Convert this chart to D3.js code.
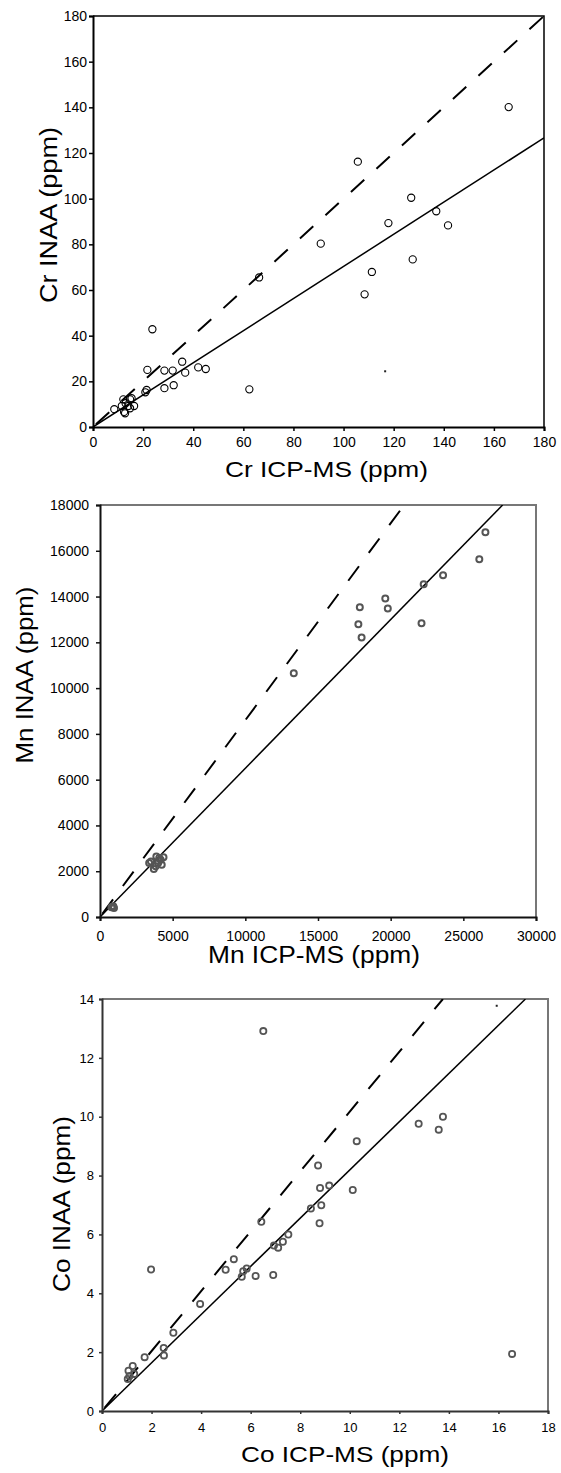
<!doctype html>
<html lang="en">
<head>
  <meta charset="utf-8">
  <title>INAA vs ICP-MS</title>
  <style>
  body { margin: 0; background: #fff; }
  svg { display: block; }
  text { font-family: Arial, "Liberation Sans", sans-serif; fill: #000; }
  </style>
</head>
<body>
<div id="chart"></div>
<script src="https://d3js.org/d3.v7.min.js"></script>
<script>

//------------------data
var crX = [165.9,105.7,127.0,137.0,117.9,141.7,90.9,127.6,111.3,108.4,66.3,23.7,21.7,28.5,31.8,35.6,36.8,42.0,45.0,32.2,28.5,62.4,21.4,20.9,12.1,14.8,13.0,11.5,14.1,16.4,14.8,8.5,12.4,12.8,15.4];
var crY = [140.1,116.2,100.4,94.5,89.3,88.3,80.3,73.4,67.9,58.1,65.5,42.8,25.0,24.7,24.7,28.6,23.8,26.1,25.4,18.3,17.0,16.5,16.2,15.2,12.1,12.1,10.4,9.2,9.2,9.2,8.2,7.8,6.6,6.0,12.6];
var crUnity = [[0,0],[180,180]];
var crFit = [[0,0],[180,126.6]];
var crSpeck = [[116.6,24.4]];
var crTicks = [0,20,40,60,80,100,120,140,160,180];

var mnX = [26519,26099,23605,22272,22123,19630,19802,17877,17778,18000,13333,3877,4370,3506,4000,3704,4173,3827,4074,3383,4247,790,914,963,860];
var mnY = [16806,15628,14930,14537,12834,13911,13474,13532,12790,12208,10652,2648,2605,2430,2357,2095,2503,2212,2576,2357,2285,422,466,393,440];
var mnUnity = [[0,0],[20930,18000]];
var mnFit = [[0,0],[27704,18000]];
var mnXTicks = [0,5000,10000,15000,20000,25000,30000];
var mnYTicks = [0,2000,4000,6000,8000,10000,12000,14000,16000,18000];

var coX = [6.51,16.55,13.76,12.78,13.59,10.28,10.12,8.72,8.80,9.17,8.85,8.43,8.78,6.43,7.52,7.30,6.94,7.11,5.32,4.99,5.84,5.70,5.64,6.20,6.91,1.98,3.96,2.88,2.49,2.50,1.72,1.24,1.07,1.30,1.04,1.11];
var coY = [12.91,1.94,10.0,9.76,9.56,9.17,7.51,8.34,7.58,7.66,6.99,6.88,6.38,6.43,6.0,5.75,5.62,5.55,5.16,4.80,4.84,4.75,4.56,4.59,4.62,4.81,3.64,2.66,2.14,1.89,1.83,1.53,1.37,1.26,1.09,1.19];
var coUnity = [[0,0],[13.76,14]];
var coFit = [[0,0],[17.09,14]];
var coSpeck = [[15.93,13.77]];
var coXTicks = [0,2,4,6,8,10,12,14,16,18];
var coYTicks = [0,2,4,6,8,10,12,14];

//------------------panels
var panels = [
  {id: 'cr', xs: crX, ys: crY, unity: crUnity, fit: crFit, speck: crSpeck,
   xDom: [0,180], yDom: [0,180], xTicks: crTicks, yTicks: crTicks,
   left: 93, right: 544, top: 16, bottom: 427,
   tickSize: 4, xPad: 6, yPad: 2, tickFont: 14,
   xTitle: 'Cr ICP-MS (ppm)', xtX: 326.5, xtY: 477, xtLen: 203, xtFont: 22,
   yTitle: 'Cr INAA (ppm)', ytX: 57, ytY: 215, ytLen: 176, ytFont: 23,
   frame: '#000', axis: '#000', r: 3.6, dot: '#000', dotW: 1.1},
  {id: 'mn', xs: mnX, ys: mnY, unity: mnUnity, fit: mnFit, speck: [],
   xDom: [0,30000], yDom: [0,18000], xTicks: mnXTicks, yTicks: mnYTicks,
   left: 100, right: 536, top: 505, bottom: 917,
   tickSize: 4, xPad: 10, yPad: 7, tickFont: 14,
   xTitle: 'Mn ICP-MS (ppm)', xtX: 314, xtY: 963, xtLen: 212, xtFont: 23,
   yTitle: 'Mn INAA (ppm)', ytX: 33, ytY: 675, ytLen: 177, ytFont: 24,
   frame: '#777', axis: '#111', r: 3, dot: '#555', dotW: 2},
  {id: 'co', xs: coX, ys: coY, unity: coUnity, fit: coFit, speck: coSpeck,
   xDom: [0,18], yDom: [0,14], xTicks: coXTicks, yTicks: coYTicks,
   left: 102, right: 548, top: 999, bottom: 1411,
   tickSize: 3, xPad: 9, yPad: 5, tickFont: 13,
   xTitle: 'Co ICP-MS (ppm)', xtX: 345, xtY: 1462, xtLen: 208, xtFont: 22,
   yTitle: 'Co INAA (ppm)', ytX: 70, ytY: 1204, ytLen: 176, ytFont: 24,
   frame: '#777', axis: '#333', r: 3.1, dot: '#555', dotW: 1.8}
];

var svg = d3.select('#chart').append('svg')
    .attr('width', 561)
    .attr('height', 1473);

panels.forEach(function(p) {
  var x = d3.scaleLinear().domain(p.xDom).range([p.left, p.right]);
  var y = d3.scaleLinear().domain(p.yDom).range([p.bottom, p.top]);
  var g = svg.append('g').attr('class', p.id);

  g.append('clipPath').attr('id', 'clip-' + p.id)
    .append('rect')
    .attr('x', p.left).attr('y', p.top)
    .attr('width', p.right - p.left).attr('height', p.bottom - p.top);

  // box, top and right sides
  g.append('path')
    .attr('d', 'M' + p.left + ',' + p.top + 'H' + p.right + 'V' + p.bottom)
    .attr('fill', 'none')
    .attr('stroke', p.frame)
    .attr('stroke-width', p.id == 'cr' ? 1.5 : 2);

  var line = d3.line().x(function(d) { return x(d[0]); }).y(function(d) { return y(d[1]); });
  var plot = g.append('g').attr('clip-path', 'url(#clip-' + p.id + ')');

  plot.append('path').datum(p.unity)
    .attr('d', line)
    .attr('fill', 'none')
    .attr('stroke', '#000')
    .attr('stroke-width', 2)
    .attr('stroke-dasharray', '18,16.5')
    .attr('stroke-dashoffset', -4);

  plot.append('path').datum(p.fit)
    .attr('d', line)
    .attr('fill', 'none')
    .attr('stroke', '#000')
    .attr('stroke-width', 1.5);

  plot.selectAll('circle').data(d3.range(p.xs.length)).enter()
    .append('circle')
    .attr('cx', function(i) { return x(p.xs[i]); })
    .attr('cy', function(i) { return y(p.ys[i]); })
    .attr('r', p.r)
    .attr('fill', 'none')
    .attr('stroke', p.dot)
    .attr('stroke-width', p.dotW);

  plot.selectAll('rect.speck').data(p.speck).enter()
    .append('rect').attr('class', 'speck')
    .attr('x', function(d) { return x(d[0]) - 1; })
    .attr('y', function(d) { return y(d[1]) - 1; })
    .attr('width', 2).attr('height', 2)
    .attr('fill', '#222');

  //------------------axes
  var xAxis = d3.axisBottom(x).tickValues(p.xTicks).tickFormat(d3.format('d'))
      .tickSize(p.tickSize).tickPadding(p.xPad);
  var yAxis = d3.axisLeft(y).tickValues(p.yTicks).tickFormat(d3.format('d'))
      .tickSize(p.tickSize).tickPadding(p.yPad);

  var gx = g.append('g').attr('transform', 'translate(0,' + p.bottom + ')').call(xAxis);
  var gy = g.append('g').attr('transform', 'translate(' + p.left + ',0)').call(yAxis);

  [gx, gy].forEach(function(a) {
    a.select('.domain').attr('stroke', p.axis).attr('stroke-width', 2);
    a.selectAll('.tick line').attr('stroke', p.axis).attr('stroke-width', 1.5);
    a.selectAll('.tick text')
      .attr('font-family', 'Arial, "Liberation Sans", sans-serif')
      .attr('font-size', p.tickFont)
      .attr('fill', '#111');
  });

  //------------------titles
  g.append('text')
    .attr('x', p.xtX).attr('y', p.xtY)
    .attr('text-anchor', 'middle')
    .attr('font-size', p.xtFont)
    .attr('textLength', p.xtLen)
    .attr('lengthAdjust', 'spacingAndGlyphs')
    .text(p.xTitle);

  g.append('text')
    .attr('transform', 'translate(' + p.ytX + ',' + p.ytY + ') rotate(-90)')
    .attr('text-anchor', 'middle')
    .attr('font-size', p.ytFont)
    .attr('textLength', p.ytLen)
    .attr('lengthAdjust', 'spacingAndGlyphs')
    .text(p.yTitle);
});

</script>
</body>
</html>
